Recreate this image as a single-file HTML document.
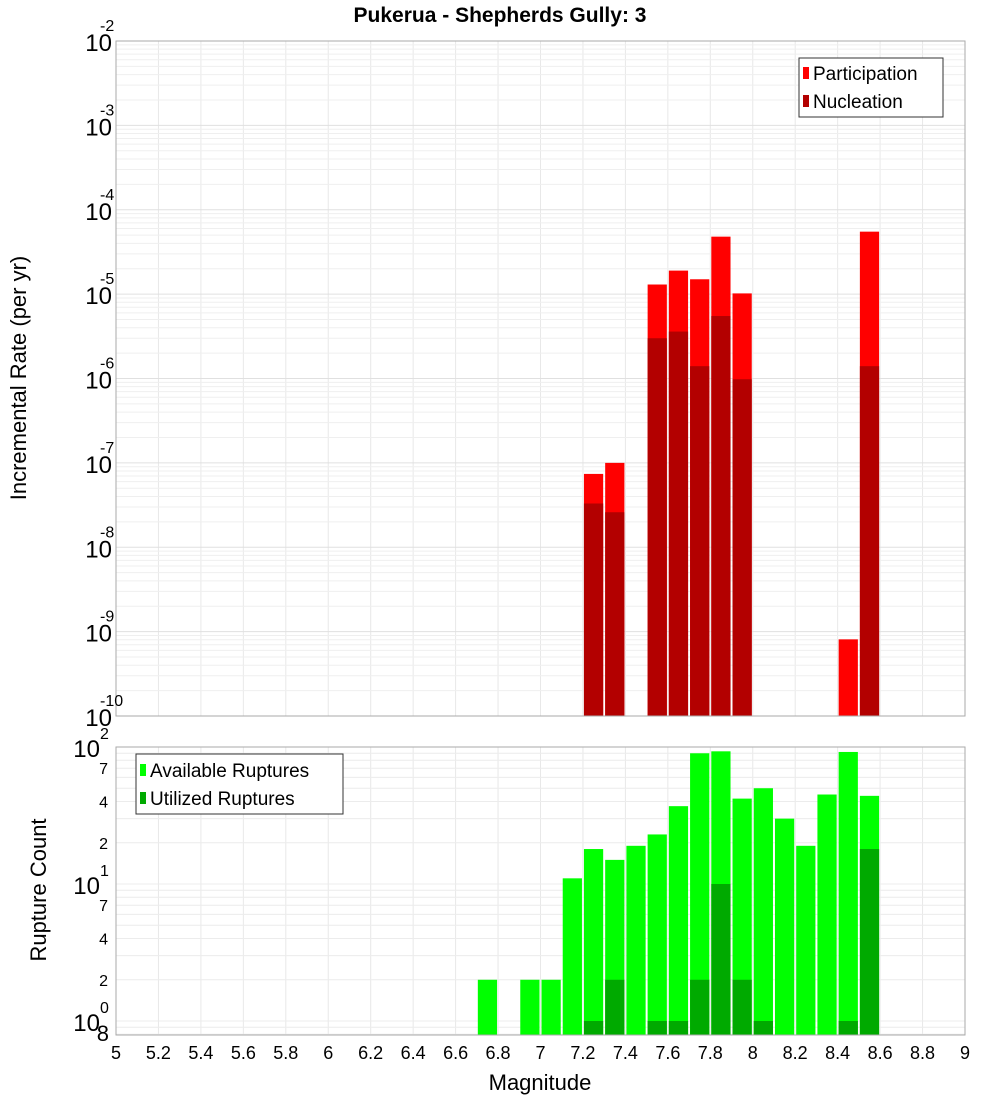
<!DOCTYPE html>
<html><head><meta charset="utf-8"><style>
body{margin:0;background:#fff;}
svg{display:block;font-family:"Liberation Sans","DejaVu Sans",sans-serif;}
</style></head><body>
<svg id="chart" width="1000" height="1100" xmlns="http://www.w3.org/2000/svg">
<text x="500" y="22" text-anchor="middle" font-size="21" font-weight="bold">Pukerua - Shepherds Gully: 3</text>
<g id="topplot"></g>
<g id="botplot"></g>
<text x="540" y="1090" text-anchor="middle" font-size="22">Magnitude</text>
<text transform="translate(26,378) rotate(-90)" text-anchor="middle" font-size="22">Incremental Rate (per yr)</text>
<text transform="translate(46,890) rotate(-90)" text-anchor="middle" font-size="22">Rupture Count</text>
</svg>
<script>
const mags=[6.75,6.85,6.95,7.05,7.15,7.25,7.35,7.45,7.55,7.65,7.75,7.85,7.95,8.05,8.15,8.25,8.35,8.45,8.55];
const participation=[0,0,0,0,0,7.4e-8,1.0e-7,0,1.3e-5,1.9e-5,1.5e-5,4.8e-5,1.02e-5,0,0,0,0,8.1e-10,5.5e-5];
const nucleation=[0,0,0,0,0,3.3e-8,2.6e-8,0,3.0e-6,3.6e-6,1.4e-6,5.5e-6,9.8e-7,0,0,0,0,0,1.4e-6];
const available=[2,0,2,2,11,18,15,19,23,37,90,93,42,50,30,19,45,92,44];
const utilized=[0,0,0,0,0,1,2,0,1,1,2,10,2,1,0,0,0,1,18];
const xTicks=[5,5.2,5.4,5.6,5.8,6,6.2,6.4,6.6,6.8,7,7.2,7.4,7.6,7.8,8,8.2,8.4,8.6,8.8,9];
const topExps=[-2,-3,-4,-5,-6,-7,-8,-9,-10];
const botMinor=[2,4,7];

const NS="http://www.w3.org/2000/svg";
const PL=116,PR=965;
const X=v=>PL+(v-5)/4*(PR-PL);
const TT=41,TB=716;
const YT=v=>TT+(-2-Math.log10(v))/8*(TB-TT);
const BT=747,BB=1035,BDEC=137,B0=1021;
const YB=v=>B0-Math.log10(v)*BDEC;
function el(parent,tag,attrs,name,text){
  const e=document.createElementNS(NS,tag);
  for(const k in attrs)e.setAttribute(k,attrs[k]);
  
  
  if(text!==undefined)e.textContent=text;
  parent.appendChild(e);return e;
}
const topG=document.getElementById('topplot'),botG=document.getElementById('botplot');
const fmt=v=>String(Math.round(v*10)/10);
function xgrid(g,y1,y2){xTicks.forEach(t=>el(g,'line',{x1:X(t),x2:X(t),y1:y1,y2:y2,stroke:'#e8e8e8'},'x-gridline'));}
xgrid(topG,TT,TB);xgrid(botG,BT,BB);
for(let e=-10;e<-2;e++){for(let m=1;m<10;m++){const y=YT(m*Math.pow(10,e));el(topG,'line',{x1:PL,x2:PR,y1:y,y2:y,stroke:m==1?'#e0e0e0':'#efefef'},'y-gridline');}}
for(let e=-1;e<2;e++){for(let m=1;m<10;m++){const v=m*Math.pow(10,e);if(v<0.8)continue;const y=YB(v);el(botG,'line',{x1:PL,x2:PR,y1:y,y2:y,stroke:'#ececec'},'y-gridline');}}
const bw=(X(5.1)-X(5))-2;
mags.forEach((m,i)=>{
  const x=X(m)-bw/2;
  if(participation[i]>0){const y=YT(participation[i]);el(topG,'rect',{x:x,y:y,width:bw,height:TB-y,fill:'#ff0000'},'participation-bar');}
  if(nucleation[i]>0){const y=YT(nucleation[i]);el(topG,'rect',{x:x,y:y,width:bw,height:TB-y,fill:'#b30000'},'nucleation-bar');}
  if(available[i]>0){const y=YB(available[i]);el(botG,'rect',{x:x,y:y,width:bw,height:BB-y,fill:'#00ff00'},'available-bar');}
  if(utilized[i]>0){const y=YB(utilized[i]);el(botG,'rect',{x:x,y:y,width:bw,height:BB-y,fill:'#00aa00'},'utilized-bar');}
});
el(topG,'rect',{x:PL,y:TT,width:PR-PL,height:TB-TT,fill:'none',stroke:'#aaa'},'top-plot-frame');
el(botG,'rect',{x:PL,y:BT,width:PR-PL,height:BB-BT,fill:'none',stroke:'#aaa'},'bottom-plot-frame');
topExps.forEach(e=>{const y=YT(Math.pow(10,e));
  el(topG,'text',{x:112,y:y+10,'text-anchor':'end','font-size':24},'y-tick-label','10');
  el(topG,'text',{x:100,y:y-10,'font-size':16},'y-tick-exponent',String(e));});
[[100,'2'],[10,'1'],[1,'0']].forEach(([v,e])=>{const y=YB(v);
  el(botG,'text',{x:100,y:y+10,'text-anchor':'end','font-size':24},'y-tick-label','10');
  el(botG,'text',{x:100,y:y-8,'font-size':16},'y-tick-exponent',e);});
[1,10].forEach(d=>botMinor.forEach(m=>{const y=YB(m*d);el(botG,'text',{x:108,y:y+6,'text-anchor':'end','font-size':16},'y-minor-label',String(m));}));
el(botG,'text',{x:109,y:1041,'text-anchor':'end','font-size':22},'y-min-label','8');
xTicks.forEach(t=>el(botG,'text',{x:X(t),y:1059,'text-anchor':'middle','font-size':18},'x-tick-label',fmt(t)));
el(topG,'rect',{x:799,y:58,width:144,height:59,fill:'#fff',stroke:'#333'},'legend-box');
el(topG,'rect',{x:803,y:67,width:6,height:12,fill:'#ff0000'},'legend-swatch-participation');
el(topG,'text',{x:813,y:80,'font-size':19},'legend-participation','Participation');
el(topG,'rect',{x:803,y:95,width:6,height:12,fill:'#b30000'},'legend-swatch-nucleation');
el(topG,'text',{x:813,y:108,'font-size':19},'legend-nucleation','Nucleation');
el(botG,'rect',{x:136,y:754,width:207,height:60,fill:'#fff',stroke:'#333'},'legend-box');
el(botG,'rect',{x:140,y:764,width:6,height:12,fill:'#00ff00'},'legend-swatch-available');
el(botG,'text',{x:150,y:777,'font-size':19},'legend-available','Available Ruptures');
el(botG,'rect',{x:140,y:792,width:6,height:12,fill:'#00aa00'},'legend-swatch-utilized');
el(botG,'text',{x:150,y:805,'font-size':19},'legend-utilized','Utilized Ruptures');
</script>
</body></html>
